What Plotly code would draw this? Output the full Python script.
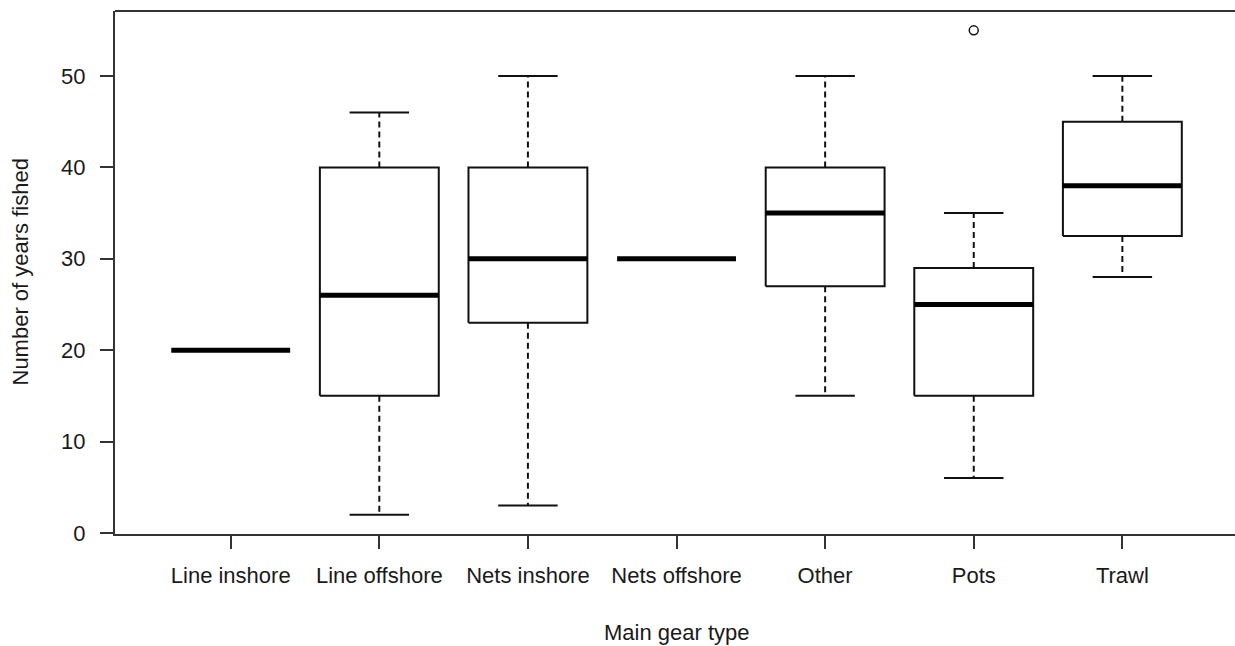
import plotly.graph_objects as go

categories = ["Line inshore", "Line offshore", "Nets inshore", "Nets offshore", "Other", "Pots", "Trawl"]
lower_whisker = [20, 2, 3, 30, 15, 6, 28]
q1 = [20, 15, 23, 30, 27, 15, 32.5]
median = [20, 26, 30, 30, 35, 25, 38]
q3 = [20, 40, 40, 30, 40, 29, 45]
upper_whisker = [20, 46, 50, 30, 50, 35, 50]
outlier_cat = ["Pots"]
outlier_val = [55]
y_ticks = [0, 10, 20, 30, 40, 50]

BOX_HALF = 0.4
STAPLE_HALF = 0.2
LINE_COL = "#111111"
FRAME_COL = "#333333"
FONT = "Liberation Sans, Arial, sans-serif"

W, H = 1235, 646
L, T = 115, 11
B = H - 534
PW, PH = W - L, H - T - B

fig = go.Figure()
pos = {c: i + 1 for i, c in enumerate(categories)}

for i, c in enumerate(categories):
    x = i + 1
    if upper_whisker[i] > q3[i]:
        fig.add_trace(go.Scatter(x=[x, x], y=[q3[i], upper_whisker[i]], mode="lines",
                                 line=dict(color=LINE_COL, width=2, dash="6px,4px"), hoverinfo="skip", showlegend=False))
        fig.add_trace(go.Scatter(x=[x - STAPLE_HALF, x + STAPLE_HALF], y=[upper_whisker[i]] * 2, mode="lines",
                                 line=dict(color=LINE_COL, width=2), hoverinfo="skip", showlegend=False))
    if lower_whisker[i] < q1[i]:
        fig.add_trace(go.Scatter(x=[x, x], y=[q1[i], lower_whisker[i]], mode="lines",
                                 line=dict(color=LINE_COL, width=2, dash="6px,4px"), hoverinfo="skip", showlegend=False))
        fig.add_trace(go.Scatter(x=[x - STAPLE_HALF, x + STAPLE_HALF], y=[lower_whisker[i]] * 2, mode="lines",
                                 line=dict(color=LINE_COL, width=2), hoverinfo="skip", showlegend=False))
    if q3[i] > q1[i]:
        fig.add_trace(go.Scatter(x=[x - BOX_HALF, x + BOX_HALF, x + BOX_HALF, x - BOX_HALF, x - BOX_HALF],
                                 y=[q1[i], q1[i], q3[i], q3[i], q1[i]], mode="lines",
                                 line=dict(color=LINE_COL, width=2), hoverinfo="skip", showlegend=False))
    fig.add_trace(go.Scatter(x=[x - BOX_HALF, x + BOX_HALF], y=[median[i]] * 2, mode="lines",
                             line=dict(color="#000000", width=5), hoverinfo="skip", showlegend=False))

fig.add_trace(go.Scatter(x=[pos[c] for c in outlier_cat], y=outlier_val, mode="markers",
                         marker=dict(symbol="circle-open", size=9, color=LINE_COL, line=dict(width=1.5)),
                         hoverinfo="skip", showlegend=False))

fig.update_layout(
    width=W, height=H,
    margin=dict(l=L, r=0, t=T, b=B),
    plot_bgcolor="white", paper_bgcolor="white",
    font=dict(family=FONT, size=22, color="#1a1a1a"),
    xaxis=dict(range=[0.2214, 7.758], tickmode="array", tickvals=list(range(1, len(categories) + 1)),
               ticktext=categories, ticks="outside", ticklen=13, tickwidth=2, tickcolor=FRAME_COL,
               showline=True, linewidth=2, linecolor=FRAME_COL, showgrid=False, zeroline=False,
               tickfont=dict(size=22, family=FONT, color="#1a1a1a"), ticklabelstandoff=8),
    yaxis=dict(range=[-0.12, 57.12], tickmode="array", tickvals=y_ticks, ticks="outside", ticklen=13,
               tickwidth=2, tickcolor=FRAME_COL, showline=True, linewidth=2, linecolor=FRAME_COL,
               showgrid=False, zeroline=False, tickfont=dict(size=22, family=FONT, color="#1a1a1a"),
               ticklabelstandoff=10),
    shapes=[dict(type="line", xref="paper", yref="paper", x0=0, x1=1, y0=1, y1=1,
                 line=dict(color=FRAME_COL, width=2))],
    annotations=[
        dict(text="Main gear type", xref="paper", yref="paper", x=(676.5 - 115) / PW, y=(534 - 632) / PH,
             showarrow=False, xanchor="center", yanchor="middle", font=dict(size=22, family=FONT, color="#1a1a1a")),
        dict(text="Number of years fished", xref="paper", yref="paper", x=(20 - 115) / PW, y=0.5,
             textangle=-90, showarrow=False, xanchor="center", yanchor="middle",
             font=dict(size=22, family=FONT, color="#1a1a1a")),
    ],
)

fig.write_html("out.html", config={"displayModeBar": False},
               post_script="document.body.style.margin='0';document.body.style.overflow='hidden';")
